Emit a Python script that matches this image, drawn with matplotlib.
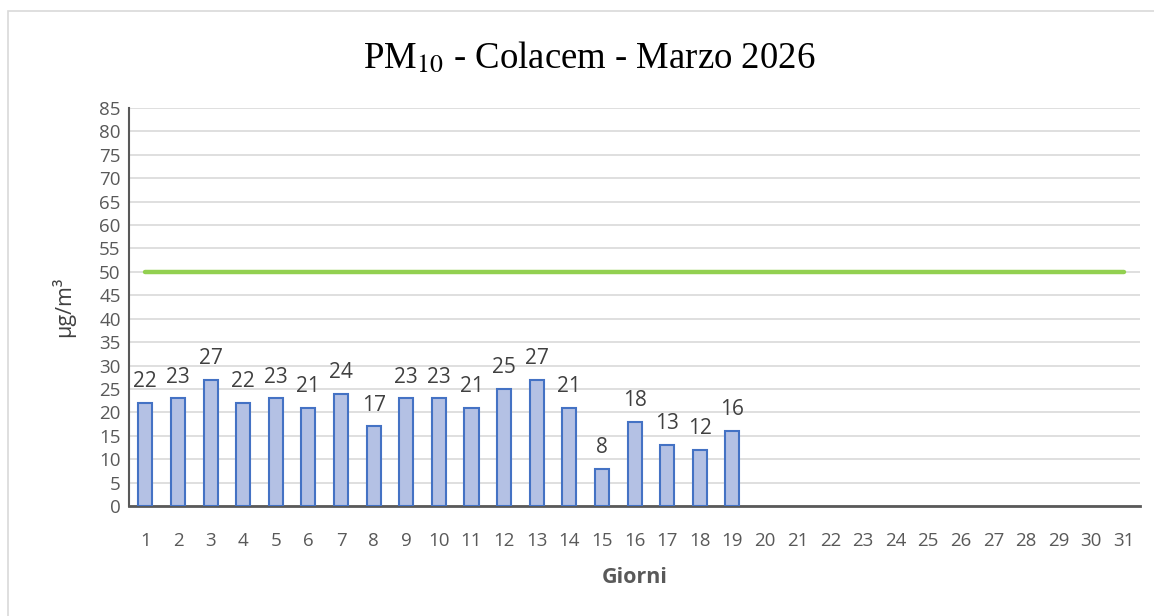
import matplotlib.pyplot as plt
import matplotlib.patches as mpatches

days = list(range(1, 32))
pm10 = [22, 23, 27, 22, 23, 21, 24, 17, 23, 23, 21, 25, 27, 21, 8, 18, 13, 12, 16]
limit = [50] * len(days)
y_ticks = list(range(0, 90, 5))

fig = plt.figure(figsize=(11.54, 6.16), dpi=100)
ax = fig.add_axes([0.1118, 0.1786, 0.8762, 0.6461])

# light border around the whole chart
fig.patches.append(mpatches.Rectangle((0.007, -0.01), 1.0, 0.992, transform=fig.transFigure,
                                      fill=False, edgecolor='#d9d9d9', lw=1.2))

ax.bar(days[:len(pm10)], pm10, width=0.43, color='#b4c1e4',
       edgecolor='#4472c4', linewidth=1.5, zorder=3)
for x, v in zip(days, pm10):
    ax.text(x, v + 2.3, str(v), ha='center', va='bottom', fontsize=15,
            color='#404040', family='Open Sans')

ax.plot(days, limit, color='#92d050', lw=3.2, solid_capstyle='round', zorder=4)

ax.set_xlim(0.5, 31.5)
ax.set_ylim(0, 85)
ax.set_yticks(y_ticks)
ax.set_xticks(days)
ax.grid(axis='y', color='#d9d9d9', lw=1.2, zorder=0)
ax.tick_params(length=0, labelsize=13.5, labelcolor='#595959', pad=6)
ax.tick_params(axis='x', pad=19)
for lab in ax.get_xticklabels() + ax.get_yticklabels():
    lab.set_family('Open Sans')
ax.spines[['top', 'right']].set_visible(False)
ax.spines['left'].set_color('#595959')
ax.spines['left'].set_linewidth(1.5)
ax.spines['bottom'].set_color('#595959')
ax.spines['bottom'].set_linewidth(2)

ax.set_xlabel('Giorni', fontsize=15.5, fontweight='bold', color='#595959',
              family='Open Sans', labelpad=12)
ax.set_ylabel('µg/m³', fontsize=15.5, color='#404040', family='Open Sans', labelpad=17)

fig.text(0.511, 0.905, r'PM$_{10}$ - Colacem - Marzo 2026', ha='center', va='center',
         fontsize=26.5, family='Liberation Serif', math_fontfamily='stix')

plt.savefig('out.png', dpi=100)
